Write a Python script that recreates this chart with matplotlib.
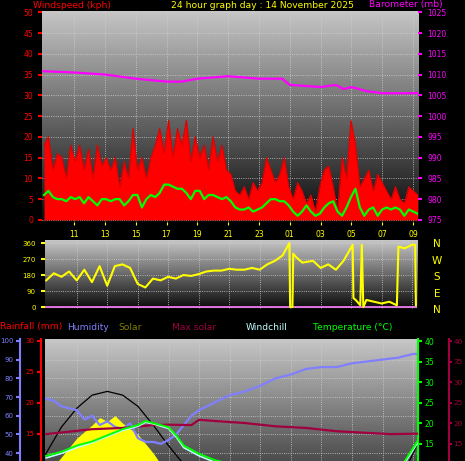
import numpy as np
import matplotlib
matplotlib.use("Agg")
import matplotlib.pyplot as plt

# ---------------- data ----------------
wind_avg = [6,7,5.5,5,5,4.5,5.5,
            5,5.5,4,5.5,4.5,3.5,5,
            5,4.5,5,5,3.5,4.5,6,
            6,3,5,6,5.5,6.5,8.5,
            8.5,8,7.5,7.5,6.5,5,7,
            7,5,6,6,5.5,5,5.5,
            4.5,3,2.5,2.5,3,2,2.5,
            3,4,5,5,4.5,4.5,3.5,
            2,1,2,3.5,2,1,1.5,
            3,4,4.5,2,1,3,5.5,
            7.5,3,1,2.5,3,1,2.5,
            3,2.5,3,2.5,1,2.5,2,
            1.5]
wind_gust = [18,20,12,16,15,10,18,
             14,18,12,17,10,18,13,
             15,12,15,8,14,10,22,
             12,15,10,15,18,22,16,
             24,15,22,18,24,14,20,
             15,18,12,20,14,18,12,
             11,7,6,8,5,9,7,
             9,15,12,9,11,15,8,
             5,9,7,4,6,2,8,
             12,13,8,2,15,10,24,
             18,8,10,12,7,11,9,
             7,5,8,5,4,8,7,
             6]
baro_hours = [9,11,13,15,17,18,19,21,23,24.5,25,27,28,28.5,29,30,31,33,33.3]
baro = [1010.8,1010.5,1010,1009,1008.3,1008.3,1009,1009.6,1009,1009,1007.5,1007,1007.5,1006.5,1007,1006,1005.5,1005.5,1005.6]

dir_hours = [9,9.5,10,10.5,11,11.5,12,12.5,13,13.5,14,14.5,15,15.5,16,16.5,17,17.5,18,18.5,19,19.5,20,20.5,21,21.5,22,22.5,23,23.5,24,24.5,
             24.95,25.0,25.15,25.2,25.4,25.8,26.5,27,27.5,28,28.5,29.1,29.15,29.3,29.6,29.7,29.8,30,30.5,31,31.5,32.0,32.1,32.5,33,33.2,33.25]
wind_dir = [150,190,170,200,150,210,140,230,120,230,240,220,130,110,160,150,170,160,180,175,185,200,205,205,215,210,210,220,210,240,260,290,
            360,0,0,300,280,250,260,220,240,210,260,350,50,40,10,350,0,40,30,20,30,10,340,330,350,350,10]

rh_hours = [9,9.5,10,10.5,11,11.5,12,12.5,13,13.5,14,14.5,15,15.5,16,16.5,17,17.5,18,18.5,19,20,21,22,23,24,25,26,27,28,29,30,31,32,33,33.3]
humidity = [69,68,65,64,63,58,60,55,57,54,53,56,48,46,46,45,47,50,55,60,63,67,71,73,76,80,82,85,86,86,88,89,90,91,93,93]

t_hours = [9,10,11,12,13,14,15,15.5,16,17,17.5,18,19,20,21,22,23,24,26,28,30,31,32,32.5,33.3]
temperature = [12,13,14.5,15.5,17,18.5,19.5,20.5,20,19,17,14.5,12.5,11,10,9,8,7,6,5,5,6,8,11,15.7]
windchill = [11.5,12.6,14,15.2,16.7,18.2,19.2,20.2,19.8,18.7,16.6,14,12,10.5,9.5,8.5,7.5,6.5,5.5,4.5,4.5,5.5,7.5,10.5,15.2]

ms_hours = [9,12,14,16,17,18.5,19,20,22,24,26,28,30,31.5,33.3]
max_solar_line = [17.3,18.5,18.8,19.5,19.6,19.5,20.8,20.5,20,19.2,18.8,18,17.6,17.3,17.4]

sun_hours = [6,8,9,10,11,12,13,14,15,16,17,18,19,20,20.5,30,31,32,33,33.3]
sun_curve = [0,26,40,54,64,71,73,71,65,55,44,34,20,6,0,0,5,22,40,45]
sol_hours = [9.2,10,11,12,12.5,13,13.5,14,15,16,17,18,19,20,32,33,33.3]
solar = [30,38,48,55,59,57,60,56,50,40,28,15,5,0,3,15,18]

xticks = [11,13,15,17,19,21,23,25,27,29,31,33]
xticklabels = ["11","13","15","17","19","21","23","01","03","05","07","09"]
compass = ["N","W","S","E","N"]

# ---------------- drawing ----------------
W, H = 465, 461
fig = plt.figure(figsize=(W/100, H/100), dpi=100, facecolor="black")

def px(l, t, r, b):
    return [l/W, 1-b/H, (r-l)/W, (b-t)/H]

grad = np.linspace(0, 1, 256).reshape(-1, 1)
def bg(ax):
    ax.imshow(grad, extent=[0, 1, 0, 1], transform=ax.transAxes, cmap="gray",
              vmin=-0.05, vmax=1.3, aspect="auto", zorder=0, origin="lower")
    ax.set_facecolor("black")

def grid(ax, yt):
    for x in xticks:
        ax.axvline(x, color="#d0d0d0", ls=":", lw=0.6, zorder=1)
    for y in yt:
        ax.axhline(y, color="#d0d0d0", ls=":", lw=0.6, zorder=1)

XL = (8.92, 33.32)
FS = 6.6
# ---- top panel
ax1 = fig.add_axes(px(42, 11, 418, 222))
bg(ax1)
ax1.set_xlim(*XL)
ax1.set_ylim(-0.5, 50.3)
grid(ax1, range(0, 51, 5))
tw = np.linspace(9.05, 33.3, len(wind_gust))
ax1.fill_between(tw, 0, wind_gust, color="#ff0000", lw=0, zorder=2)
ax1.plot(tw, wind_gust, color="#e00000", lw=0.8, zorder=2)
ta = np.linspace(9.05, 33.3, len(wind_avg))
ax1.plot(ta, wind_avg, color="#00ff00", lw=1.6, zorder=3)
ax1.set_yticks(range(0, 51, 5))
ax1.tick_params(axis="y", colors="red", labelsize=5.5, length=3, width=1.5)
ax1.set_xticks(xticks)
ax1.set_xticklabels(xticklabels)
ax1.tick_params(axis="x", colors="yellow", labelsize=5.5, length=2)
for s in ax1.spines.values():
    s.set_visible(False)
ax1b = ax1.twinx()
ax1b.set_ylim(974.5, 1025.3)
ax1b.plot(baro_hours, baro, color="#ff00ff", lw=1.6, zorder=4)
ax1b.set_yticks(range(975, 1026, 5))
ax1b.tick_params(axis="y", colors="#ff00ff", labelsize=5.5, length=3, width=1.5)
for s in ax1b.spines.values():
    s.set_visible(False)

fig.text(33/W, 1-5/H, "Windspeed (kph)", color="red", fontsize=FS, va="center")
fig.text(262/W, 1-5/H, "24 hour graph day : 14 November 2025", color="yellow", fontsize=FS, va="center", ha="center")
fig.text(443/W, 1-5/H, "Barometer (mb)", color="#ff00ff", fontsize=FS, va="center", ha="right")

# ---- middle panel
ax2 = fig.add_axes(px(45, 240, 417, 309))
bg(ax2)
ax2.set_xlim(*XL)
ax2.set_ylim(-11, 377)
grid(ax2, [0, 90, 180, 270, 360])
ax2.axhline(0, color="#ff80ff", lw=1.2, zorder=2)
ax2.plot(dir_hours, wind_dir, color="yellow", lw=1.5, zorder=3)
ax2.set_yticks([0, 90, 180, 270, 360])
ax2.tick_params(axis="y", colors="yellow", labelsize=5, length=3, width=1.5)
ax2.set_xticks([])
for s in ax2.spines.values():
    s.set_visible(False)
for i, c in enumerate(compass):
    fig.text(437/W, 1-(244+i*16.5)/H, c, color="yellow", fontsize=7.5, ha="center", va="center")

# ---- legend row
leg = [("Rainfall (mm)", "red", 0), ("Humidity", "#8080ff", 67), ("Solar", "#808000", 118),
       ("Max solar", "#a00040", 172), ("Windchill", "#c0ffff", 246), ("Temperature (°C)", "#00ff00", 313)]
for txt, col, x in leg:
    fig.text(x/W, 1-327/H, txt, color=col, fontsize=FS, va="center")

# ---- bottom panel
ax3 = fig.add_axes(px(45, 339, 418, 528))
bg(ax3)
ax3.set_xlim(*XL)
ax3.set_ylim(0, 101)
grid(ax3, range(0, 101, 10))
ax3.fill_between(sol_hours, 0, solar, color="yellow", lw=0, zorder=2)
ax3.plot(sun_hours, sun_curve, color="black", lw=0.9, zorder=3)
ax3.plot(rh_hours, humidity, color="#8080ff", lw=1.6, zorder=4)
ax3.set_xticks([])
ax3.yaxis.set_visible(False)
for s in ax3.spines.values():
    s.set_visible(False)

axt = ax3.twinx()
axt.set_ylim(-5.6, 40.5)
axt.plot(ms_hours, max_solar_line, color="#a00040", lw=1.6, zorder=3)
axt.plot(t_hours, windchill, color="#c0ffff", lw=1.2, zorder=4)
axt.plot(t_hours, temperature, color="#00ff00", lw=1.4, zorder=5)
axt.set_yticks(range(15, 41, 5))
axt.tick_params(axis="y", colors="#00ff00", labelsize=5.5, length=3, width=1.5, pad=1.5)
for k, s in axt.spines.items():
    s.set_visible(k == "right")
axt.spines["right"].set_color("#00ff00")
axt.spines["right"].set_linewidth(1.5)

axm = ax3.twinx()
axm.set_ylim(-5.6, 40.5)
axm.spines["right"].set_position(("outward", 22))
axm.set_yticks(range(15, 41, 5))
axm.tick_params(axis="y", colors="#a00040", labelsize=5.3, length=2.5, width=1.5, pad=1)
for k, s in axm.spines.items():
    s.set_visible(k == "right")
axm.spines["right"].set_color("#a00040")
axm.spines["right"].set_linewidth(1.5)

axh = ax3.twinx()
axh.set_ylim(0, 101)
axh.yaxis.set_ticks_position("left")
axh.spines["left"].set_position(("outward", 18))
axh.set_yticks(range(40, 101, 10))
axh.tick_params(axis="y", colors="#8080ff", labelsize=5, length=3, width=1.5, pad=1.5, labelleft=True, labelright=False)
for k, s in axh.spines.items():
    s.set_visible(k == "left")
axh.spines["left"].set_color("#8080ff")
axh.spines["left"].set_linewidth(1.5)

axr = ax3.twinx()
axr.set_ylim(-0.16, 30.3)
axr.yaxis.set_ticks_position("left")
axr.spines["left"].set_position(("outward", 3))
axr.set_yticks([15, 20, 25, 30])
axr.tick_params(axis="y", colors="red", labelsize=5, length=3, width=1.5, pad=1.5, labelleft=True, labelright=False)
for k, s in axr.spines.items():
    s.set_visible(k == "left")
axr.spines["left"].set_color("red")
axr.spines["left"].set_linewidth(1.5)

fig.savefig("out.png", dpi=100, facecolor="black")
